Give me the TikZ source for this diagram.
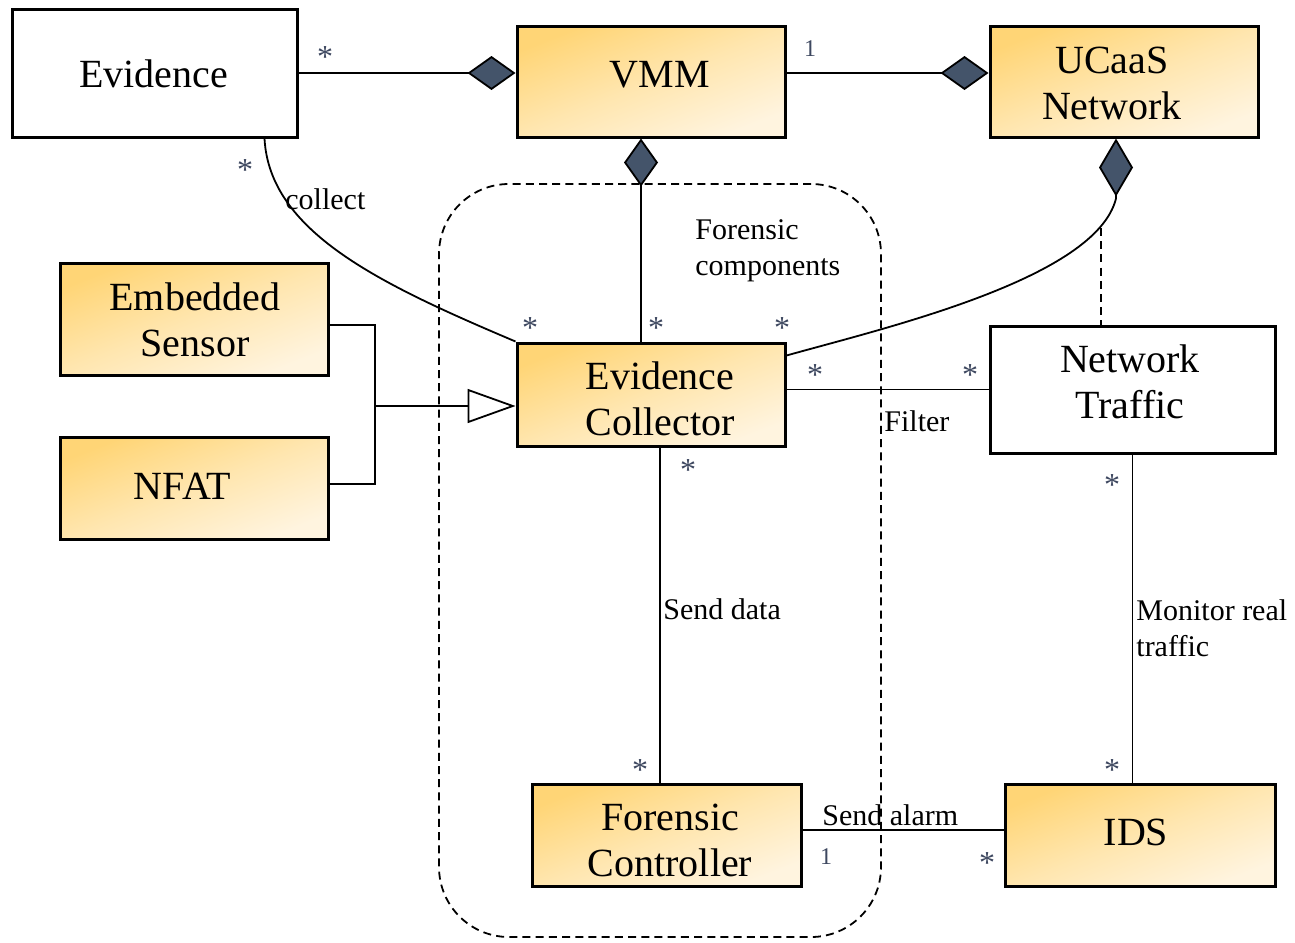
\documentclass[tikz,border=0pt]{standalone}
\usepackage{fontspec}
\setmainfont{Liberation Serif}
\usetikzlibrary{arrows.meta,calc}
\definecolor{goldA}{HTML}{FFD576}
\definecolor{goldM}{HTML}{FFE6AF}
\definecolor{goldB}{HTML}{FFF4DF}
\definecolor{slate}{HTML}{44546A}
\definecolor{mult}{HTML}{3E4860}
\begin{document}
\begin{tikzpicture}[x=0.5pt,y=-0.5pt,
  cls/.style={draw=black, line width=1.5pt, inner sep=0pt},
  plain/.style={cls, fill=white},
  % deep gold in the upper left corner fading towards the lower right one
  gold/.style={cls, top color=goldA, bottom color=goldB, middle color=goldM, shading angle=21.5},
  txt/.style={inner sep=0pt, align=center, font=\fontsize{20}{23}\selectfont},
  conn/.style={line width=0.9pt, draw=black},
  comp/.style={conn, -{Diamond[length=24pt,width=17pt,fill=slate]}},
  gen/.style={conn, -{Triangle[open,length=24pt,width=17pt,fill=white]}},
  dsh/.style={line width=0.9pt, dash pattern=on 4pt off 2.6pt},
  mul/.style={inner sep=0pt, text=mult, font=\fontsize{16}{16}\selectfont},
  one/.style={inner sep=0pt, text=mult, font=\fontsize{12}{12}\selectfont},
  lbl/.style={inner sep=0pt, anchor=west, align=left,
              font=\fontsize{15}{18}\selectfont}]
\useasboundingbox (0,0) rectangle (1295,942);

% package boundary of the forensic components
\node[draw, dsh, rounded corners=35pt, minimum width=221pt,
      minimum height=376.5pt, inner sep=0pt] (zone) at (660,560.5) {};

% class boxes
\node[plain, minimum width=142.5pt, minimum height=64pt]   (ev)    at (154.5,73)  {};
\node[gold,  minimum width=134pt,   minimum height=55.5pt] (vmm)   at (651,81.5)  {};
\node[gold,  minimum width=134pt,   minimum height=55.5pt] (ucaas) at (1124,81.5) {};
\node[gold,  minimum width=134pt,   minimum height=56pt]   (es)    at (194,319)   {};
\node[gold,  minimum width=134pt,   minimum height=51pt]   (nfat)  at (194,488)   {};
\node[gold,  minimum width=134pt,   minimum height=51.5pt] (ec)    at (651,394.5) {};
\node[plain, minimum width=142.5pt, minimum height=63.5pt] (nt)    at (1132.5,389.5) {};
\node[gold,  minimum width=134.5pt, minimum height=51pt]   (fc)    at (666.5,835) {};
\node[gold,  minimum width=135pt,   minimum height=51pt]   (ids)   at (1140,835)  {};

% class names
\node[txt] (ev-t)    at (153.5,74)  {Evidence};
\node[txt] (vmm-t)   at (660,75)    {VMM};
\node[txt] (ucaas-t) at (1112,83)   {UCaaS\\Network};
\node[txt] (es-t)    at (195,320)   {Embedded\\Sensor};
\node[txt] (nfat-t)  at (182.5,486) {NFAT};
\node[txt] (ec-t)    at (660,398.5) {Evidence\\Collector};
\node[txt] (nt-t)    at (1130,382)  {Network\\Traffic};
\node[txt] (fc-t)    at (670,840)   {Forensic\\Controller};
\node[txt] (ids-t)   at (1136,832)  {IDS};

% compositions
\draw[comp] (ev.east) -- (ev.east -| vmm.west);
\draw[comp] ([yshift=4.25pt]vmm.east) -- ([yshift=4.25pt]ucaas.west);
\draw[comp] ([xshift=-5pt]ec.north) -- ([xshift=-5pt]vmm.south);
\draw[conn, {Diamond[length=29pt,width=17pt,fill=slate]}-]
  ([xshift=-4pt]ucaas.south) -- ++(0,60)
  .. controls +(-20,80) and +(100,-28) .. ($(ec.north east)+(0,14)$);

% association class link
\coordinate (tap) at (1101,228);
\draw[dsh] (tap) -- (tap |- nt.north);

% collect association
\draw[conn] ([xshift=-17pt]ev.south east) .. controls +(5,93) and +(-137,-58) .. (ec.north west);

% generalisation
\coordinate (jn) at (375,406);
\draw[conn] ([yshift=-3pt]es.east) -| (jn);
\draw[conn] ([yshift=2pt]nfat.east) -| (jn);
\draw[gen] (jn) -- (ec.west |- jn);

% associations
\draw[conn] (nt.west -| ec.east) -- (nt.west);
\coordinate (sd) at (660,0);
\draw[conn] (ec.south -| sd) -- (fc.north -| sd);
\draw[conn] ([yshift=2.5pt]fc.east) -- ([yshift=2.5pt]ids.west);
\draw[conn] (nt.south) -- (nt.south |- ids.north);

% multiplicities
\node[mul] (m1)  at (325,57)   {*};
\node[one] (m2)  at (810,49)   {1};
\node[mul] (m3)  at (245,170)  {*};
\node[mul] (m4)  at (530,328)  {*};
\node[mul] (m5)  at (656,328)  {*};
\node[mul] (m6)  at (782,328)  {*};
\node[mul] (m7)  at (815,375)  {*};
\node[mul] (m8)  at (970,375)  {*};
\node[mul] (m9)  at (688,470)  {*};
\node[mul] (m10) at (640,770)  {*};
\node[one] (m11) at (826,857)  {1};
\node[mul] (m12) at (987,863)  {*};
\node[mul] (m13) at (1112,485) {*};
\node[mul] (m14) at (1112,770) {*};

% role and package labels
\node[lbl] (l1) at (285,199)  {collect};
\node[lbl] (l2) at (695,251)  {Forensic\\components};
\node[lbl] (l3) at (884,421)  {Filter};
\node[lbl] (l4) at (663,609)  {Send data};
\node[lbl] (l5) at (822,815)  {Send alarm};
\node[lbl] (l6) at (1136,628) {Monitor real\\traffic};
\end{tikzpicture}
\end{document}
